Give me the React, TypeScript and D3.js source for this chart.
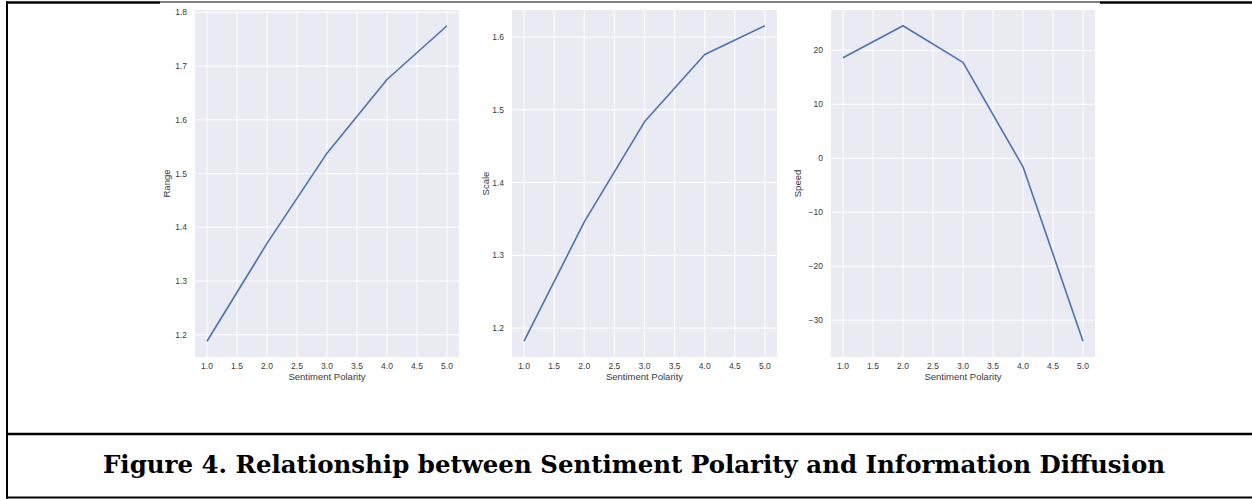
import React, { useEffect, useRef } from 'react';
import * as d3 from 'd3';

// Sentiment polarity levels (x axis, shared by all panels)
const polarity = [1, 2, 3, 4, 5];
const xTicks = [1.0, 1.5, 2.0, 2.5, 3.0, 3.5, 4.0, 4.5, 5.0];

// Values
const rangeValues = [1.188, 1.37, 1.538, 1.675, 1.775];
const scaleValues = [1.182, 1.346, 1.4835, 1.576, 1.6155];
const speedValues = [18.63, 24.55, 17.78, -1.59, -33.9];

const rangeTicks = [1.2, 1.3, 1.4, 1.5, 1.6, 1.7, 1.8];
const scaleTicks = [1.2, 1.3, 1.4, 1.5, 1.6];
const speedTicks = [-30, -20, -10, 0, 10, 20];

const panels = [
  {label: 'Range', values: rangeValues, ticks: rangeTicks, fmt: '.1f', left: 195, right: 459, yLabelX: 170},
  {label: 'Scale', values: scaleValues, ticks: scaleTicks, fmt: '.1f', left: 512, right: 777, yLabelX: 489},
  {label: 'Speed', values: speedValues, ticks: speedTicks, fmt: 'd', left: 831, right: 1095, yLabelX: 801},
];

const TITLE = 'Figure 4. Relationship between Sentiment Polarity and Information Diffusion';
const W = 1252, H = 499;
const LINE = '#4C72B0';
const BG = '#EAEAF2';
const TXT = '#3a3a3a';

export default function App() {
  const ref = useRef<HTMLDivElement>(null);

  useEffect(() => {
    const container = ref.current;
    if (!container) return;
    d3.select(container).selectAll('*').remove();

    const svg = d3.select(container).append('svg').attr('width', W).attr('height', H)
      .style('display', 'block');
    svg.append('rect').attr('width', W).attr('height', H).attr('fill', '#fff');

    const top = 10, bottom = 357;

    panels.forEach(p => {
      const x = d3.scaleLinear().domain([0.8, 5.2]).range([p.left, p.right]);
      const lo = d3.min(p.values) as number, hi = d3.max(p.values) as number;
      const pad = (hi - lo) * 0.05;
      const y = d3.scaleLinear().domain([lo - pad, hi + pad]).range([bottom, top]);
      const g = svg.append('g');

      g.append('rect').attr('x', p.left).attr('y', top).attr('width', p.right - p.left).attr('height', bottom - top).attr('fill', BG);

      // grid
      g.selectAll('.gx').data(xTicks).enter().append('line')
        .attr('x1', d => x(d)).attr('x2', d => x(d)).attr('y1', top).attr('y2', bottom)
        .attr('stroke', '#fff').attr('stroke-width', 1);
      g.selectAll('.gy').data(p.ticks).enter().append('line')
        .attr('x1', p.left).attr('x2', p.right).attr('y1', d => y(d)).attr('y2', d => y(d))
        .attr('stroke', '#fff').attr('stroke-width', 1);

      // tick labels
      const fx = d3.format('.1f');
      g.selectAll('.tx').data(xTicks).enter().append('text')
        .attr('x', d => x(d)).attr('y', 369).attr('text-anchor', 'middle')
        .attr('font-family', 'Liberation Sans, Arial, sans-serif').attr('font-size', 8.5).attr('fill', TXT)
        .text(d => fx(d));
      const fy = d3.format(p.fmt);
      g.selectAll('.ty').data(p.ticks).enter().append('text')
        .attr('x', p.left - 8).attr('y', d => y(d)).attr('dy', '0.35em').attr('text-anchor', 'end')
        .attr('font-family', 'Liberation Sans, Arial, sans-serif').attr('font-size', 8.5).attr('fill', TXT)
        .text(d => fy(d).replace('-', '\u2212'));

      // axis labels
      g.append('text').attr('x', (p.left + p.right) / 2).attr('y', 380).attr('text-anchor', 'middle')
        .attr('font-family', 'Liberation Sans, Arial, sans-serif').attr('font-size', 9.5).attr('fill', TXT)
        .text('Sentiment Polarity');
      g.append('text').attr('transform', `translate(${p.yLabelX},${(top + bottom) / 2}) rotate(-90)`)
        .attr('text-anchor', 'middle')
        .attr('font-family', 'Liberation Sans, Arial, sans-serif').attr('font-size', 9.5).attr('fill', TXT)
        .text(p.label);

      const line = d3.line<number>().x((d, i) => x(polarity[i])).y(d => y(d));
      g.append('path').datum(p.values).attr('fill', 'none').attr('stroke', LINE).attr('stroke-width', 1.6)
        .attr('stroke-linejoin', 'round').attr('d', line);
    });

    // frame lines
    const frame = svg.append('g').attr('stroke', '#000');
    frame.append('line').attr('x1', 6).attr('x2', 160).attr('y1', 2.5).attr('y2', 2.5).attr('stroke-width', 2.5);
    frame.append('line').attr('x1', 160).attr('x2', 1100).attr('y1', 2).attr('y2', 2).attr('stroke-width', 1);
    frame.append('line').attr('x1', 1100).attr('x2', W).attr('y1', 2.5).attr('y2', 2.5).attr('stroke-width', 2.5);
    frame.append('line').attr('x1', 7).attr('x2', 7).attr('y1', 1.5).attr('y2', 498.5).attr('stroke-width', 2);
    frame.append('line').attr('x1', 6).attr('x2', W).attr('y1', 434).attr('y2', 434).attr('stroke-width', 2.5);
    frame.append('line').attr('x1', 6).attr('x2', W).attr('y1', 497.5).attr('y2', 497.5).attr('stroke-width', 2);

    svg.append('text').attr('x', 634).attr('y', 473).attr('text-anchor', 'middle')
      .attr('font-family', 'DejaVu Serif, serif').attr('font-weight', 700).attr('font-size', 24.5)
      .attr('textLength', 1062).attr('lengthAdjust', 'spacingAndGlyphs')
      .attr('fill', '#000').text(TITLE);
  }, []);

  return <div ref={ref} style={{position: 'absolute', left: 0, top: 0, width: W, height: H}} />;
}
